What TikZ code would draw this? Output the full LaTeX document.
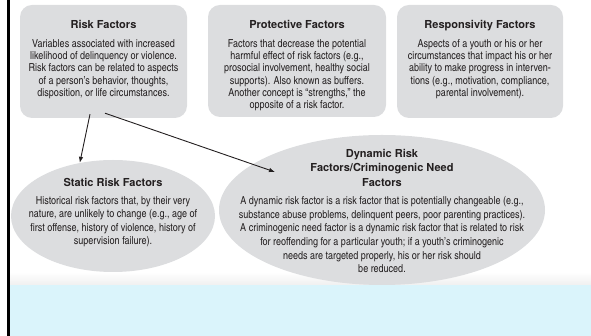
\documentclass[tikz,border=0pt]{standalone}
\usepackage{fontspec}
\setmainfont{texgyreheroscn}[Extension=.otf, UprightFont=*-regular, BoldFont=*-bold]
\newfontfamily\headfont{texgyreheros}[Extension=.otf, UprightFont=*-regular, BoldFont=*-bold]
\usepackage{tikz}
\usetikzlibrary{arrows.meta,calc,positioning,shapes.geometric}
\definecolor{panelgray}{HTML}{DCDDDF}
\definecolor{inkgray}{HTML}{231F20}
\definecolor{bandblue}{HTML}{DAF4FB}
\tikzset{
  factorbox/.style={fill=panelgray, rounded corners=12pt, inner sep=0pt},
  factorellipse/.style={ellipse, fill=panelgray, inner sep=0pt},
  headtext/.style={font=\headfont\bfseries\fontsize{11}{14.5}\selectfont, text=inkgray, align=center, inner sep=0pt},
  bodytext/.style={font=\fontsize{11}{12.3}\selectfont, text=inkgray, align=center, inner sep=0pt},
  linkarrow/.style={inkgray, line width=0.9pt, -{Latex[length=6pt,width=4.5pt]}}
}

\begin{document}
\begin{tikzpicture}[x=1pt,y=1pt]
  \useasboundingbox (0,0) rectangle (591,336);
  % page strip and bottom band
  \fill[bandblue] (10,0) rectangle (591,51);
  \shade[top color=white, bottom color=gray!12] (10,51) rectangle (591,64);
  \draw[black, line width=2.7pt] (8.7,0) -- (8.7,336);

  % top row of boxes
  \node[factorbox, minimum width=167pt, minimum height=113pt] (riskbox) at (103.5,274.5) {};
  \node[factorbox, minimum width=178pt, minimum height=112pt] (protectbox) at (297,275) {};
  \node[factorbox, minimum width=166pt, minimum height=113pt] (respondbox) at (480,274.5) {};

  \node[headtext, below=15pt of riskbox.north] (risktitle) {Risk Factors};
  \node[bodytext, below=11pt of risktitle.base] (risktext) {Variables associated with increased\\likelihood of delinquency or violence.\\Risk factors can be related to aspects\\of a person’s behavior, thoughts,\\disposition, or life circumstances.};

  \node[headtext, below=15pt of protectbox.north] (protecttitle) {Protective Factors};
  \node[bodytext, below=11pt of protecttitle.base] (protecttext) {Factors that decrease the potential\\harmful effect of risk factors (e.g.,\\prosocial involvement, healthy social\\supports). Also known as buffers.\\Another concept is “strengths,” the\\opposite of a risk factor.};

  \node[headtext, below=15pt of respondbox.north] (respondtitle) {Responsivity Factors};
  \node[bodytext, below=11pt of respondtitle.base] (respondtext) {Aspects of a youth or his or her\\circumstances that impact his or her\\ability to make progress in interven-\\tions (e.g., motivation, compliance,\\parental involvement).};

  % lower row of ellipses
  \node[factorellipse, minimum width=204pt, minimum height=112pt] (static) at (113,120) {};
  \node[factorellipse, minimum width=326pt, minimum height=150pt] (dynamic) at (382,126) {};

  \node[headtext, below=18pt of static.north] (statictitle) {Static Risk Factors};
  \node[bodytext, font=\fontsize{11}{13.3}\selectfont, below=10.3pt of statictitle.base] (statictext) {Historical risk factors that, by their very\\nature, are unlikely to change (e.g., age of\\first offense, history of violence, history of\\supervision failure).};

  \node[headtext, below=14pt of dynamic.north] (dynamictitle) {Dynamic Risk\\Factors/Criminogenic Need\\Factors};
  \node[bodytext, font=\fontsize{11}{13.6}\selectfont, below=10.3pt of dynamictitle.base] (dynamictext) {A dynamic risk factor is a risk factor that is potentially changeable (e.g.,\\substance abuse problems, delinquent peers, poor parenting practices).\\A criminogenic need factor is a dynamic risk factor that is related to risk\\for reoffending for a particular youth; if a youth’s criminogenic\\needs are targeted properly, his or her risk should\\be reduced.};

  % links from risk factors
  \coordinate (riskout1) at ($(riskbox.south)+(-13.5,4)$);
  \coordinate (riskout2) at ($(riskbox.south)+(1.5,5)$);
  \coordinate (dynamicin) at ($(dynamic.center)+(-107,38)$);
  \draw[linkarrow] (riskout1) -- (static.122);
  \draw[linkarrow] (riskout2) -- (dynamicin);
\end{tikzpicture}
\end{document}
